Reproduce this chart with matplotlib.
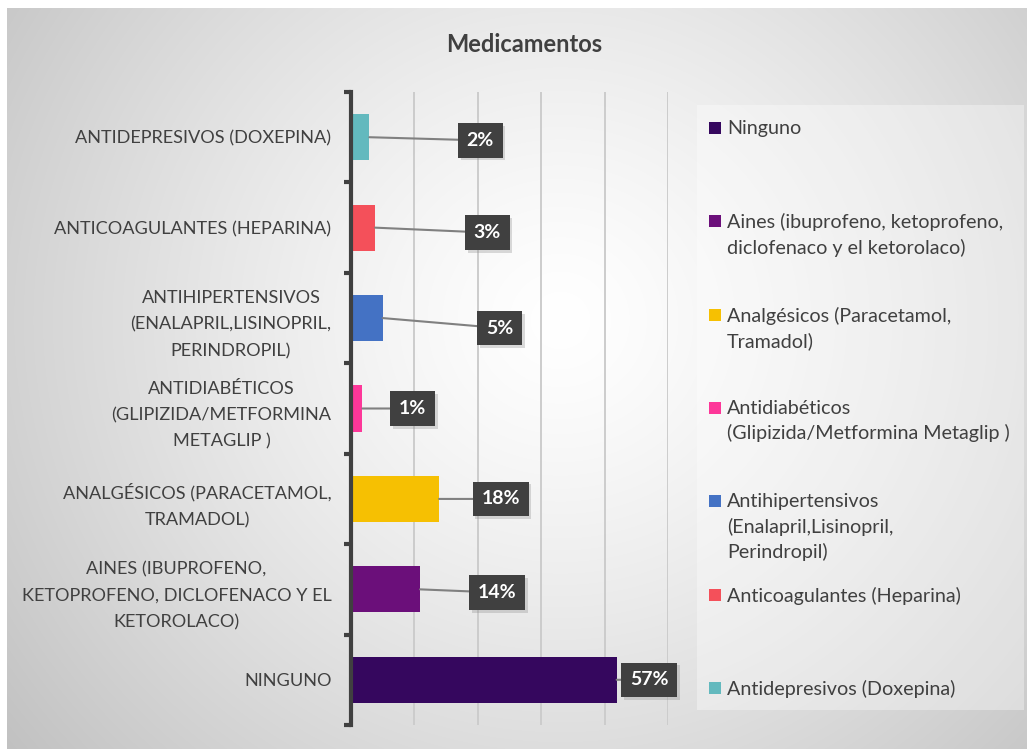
import matplotlib.pyplot as plt
import matplotlib.patheffects as pe
from matplotlib.patches import Rectangle
import numpy as np

plt.rcParams['font.family'] = ['Lato', 'DejaVu Sans']

# data, listed bottom bar first (same order as the legend)
categories = ['Ninguno',
              'Aines (ibuprofeno, ketoprofeno,\ndiclofenaco y el ketorolaco)',
              'Analgésicos (Paracetamol,\nTramadol)',
              'Antidiabéticos\n(Glipizida/Metformina Metaglip )',
              'Antihipertensivos\n(Enalapril,Lisinopril,\nPerindropil)',
              'Anticoagulantes (Heparina)',
              'Antidepresivos (Doxepina)']
tick_labels = ['NINGUNO',
               'AINES (IBUPROFENO,\nKETOPROFENO, DICLOFENACO Y EL\nKETOROLACO)',
               'ANALGÉSICOS (PARACETAMOL,\nTRAMADOL)',
               'ANTIDIABÉTICOS\n(GLIPIZIDA/METFORMINA\nMETAGLIP )',
               'ANTIHIPERTENSIVOS\n(ENALAPRIL,LISINOPRIL,\nPERINDROPIL)',
               'ANTICOAGULANTES (HEPARINA)',
               'ANTIDEPRESIVOS (DOXEPINA)']
values = [41.9, 10.9, 13.9, 1.8, 5.0, 3.8, 2.9]
pct_labels = ['57%', '14%', '18%', '1%', '5%', '3%', '2%']
colors = ['#35075e', '#6b0f7a', '#f6c002', '#fd3799', '#4472c4', '#f4505a', '#63b9be']

# where the data label boxes were dragged to (data units)
label_x = [47.0, 23.0, 23.6, 9.7, 23.4, 21.5, 20.4]
label_dy = [0, -0.035, 0, 0, -0.11, -0.055, -0.035]

W, H = 1027, 749
fig = plt.figure(figsize=(W / 100, H / 100), dpi=100)
fig.patch.set_facecolor('white')

# radial grey background
bg = fig.add_axes([0, 0, 1, 1], zorder=-10)
yy, xx = np.mgrid[0:H, 0:W]
d = np.sqrt(((xx - 560) / 540) ** 2 + ((yy - 320) / 520) ** 2)
shade = np.clip(1 - 0.17 * d ** 1.3, 0, 1)
img = np.dstack([shade] * 3)
img[(xx < 7) | (yy < 8)] = 1.0
bg.imshow(img, extent=(0, W, H, 0), aspect='auto', interpolation='bilinear')
bg.add_patch(Rectangle((697, 105), 327, 605, fc='white', alpha=0.35, ec='none'))
bg.set_xlim(0, W)
bg.set_ylim(H, 0)
bg.axis('off')

ax = fig.add_axes([351 / W, 1 - 725 / H, (668 - 351) / W, (725 - 92) / H])
ax.set_facecolor('none')
y = np.arange(len(values))
ax.barh(y, values, height=0.51, color=colors, zorder=3)
ax.set_xlim(0, 50)
ax.set_ylim(-0.5, len(values) - 0.5)
ax.set_xticks(np.arange(10, 51, 10))
ax.tick_params(axis='x', length=0, labelbottom=False)
ax.grid(axis='x', color='#cccccc', lw=1.4, zorder=0)
for s in ['top', 'right', 'bottom']:
    ax.spines[s].set_visible(False)
ax.spines['left'].set_color('#404040')
ax.spines['left'].set_linewidth(3)
ax.spines['left'].set_zorder(4)

ax.set_yticks(y, tick_labels)
ax.set_yticks(np.arange(-0.5, len(values), 1), minor=True)
ax.tick_params(axis='y', which='major', length=0, pad=14, labelsize=13.1, labelcolor='#404040')
ax.tick_params(axis='y', which='minor', length=5, width=3, color='#404040')
for t in ax.get_yticklabels():
    t.set_multialignment('center')
    t.set_linespacing(1.8)

# data labels with leader lines
for i, (v, lab) in enumerate(zip(values, pct_labels)):
    t = ax.annotate(lab, xy=(v, i), xytext=(label_x[i], i + label_dy[i]),
                    ha='center', va='center', color='white', fontsize=14,
                    fontweight='bold', zorder=5,
                    bbox=dict(boxstyle='square,pad=0.45', fc='#404040', ec='none'),
                    arrowprops=dict(arrowstyle='-', color='#808080', lw=1.5,
                                    shrinkA=0, shrinkB=0))
    t.get_bbox_patch().set_path_effects(
        [pe.SimplePatchShadow(offset=(2, -2), shadow_rgbFace='#888888', alpha=0.3),
         pe.Normal()])

fig.text(524 / W, 1 - 45 / H, 'Medicamentos', ha='center', va='center',
         fontsize=17, fontweight='bold', color='#404040')

# legend, one slot per category
for i, (lab, c) in enumerate(zip(categories, colors)):
    yc = 128 + i * 93.3
    fig.patches.append(Rectangle((709 / W, 1 - (yc + 6) / H), 12 / W, 12 / H,
                                 transform=fig.transFigure, fc=c, ec='none'))
    fig.text(727 / W, 1 - (yc - 8) / H, lab, ha='left', va='top',
             fontsize=14.2, color='#404040', linespacing=1.5)

fig.savefig('out.png', dpi=100)
